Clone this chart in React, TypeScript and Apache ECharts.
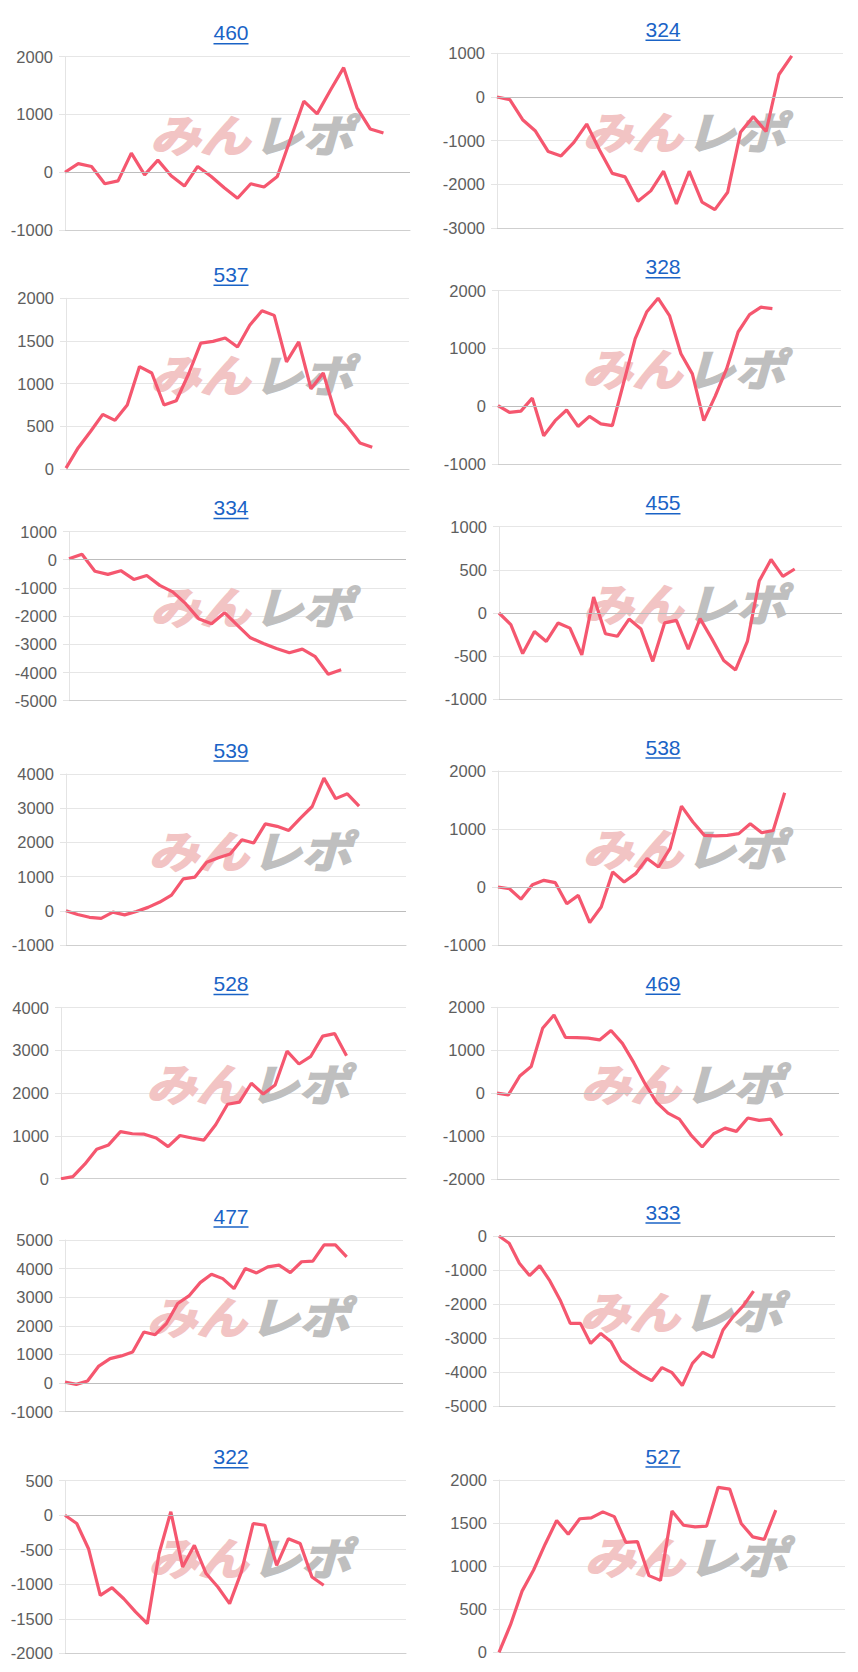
import React, { useEffect, useRef } from "react";
import * as echarts from "echarts";

// ---- data ----
const titles = ["460", "324", "537", "328", "334", "455", "539", "538", "528", "469", "477", "333", "322", "527"];

const s460 = [0, 150, 100, -200, -150, 330, -45, 210, -60, -240, 100, -70, -270, -450, -200, -255, -75, 580, 1230, 1010, 1420, 1810, 1120, 750, 680];
const s324 = [0, -60, -520, -780, -1250, -1350, -1040, -620, -1215, -1750, -1830, -2390, -2150, -1700, -2450, -1700, -2410, -2580, -2180, -810, -450, -790, 515, 940];
const s537 = [10, 250, 440, 640, 570, 750, 1200, 1125, 750, 800, 1110, 1475, 1495, 1535, 1430, 1685, 1855, 1800, 1255, 1490, 940, 1125, 645, 490, 305, 255];
const s328 = [10, -105, -85, 140, -510, -250, -65, -350, -175, -305, -335, 415, 1170, 1630, 1870, 1570, 910, 560, -250, 175, 650, 1285, 1585, 1715, 1690];
const s334 = [30, 190, -410, -520, -390, -700, -560, -910, -1140, -1560, -2090, -2270, -1880, -2330, -2770, -2970, -3150, -3300, -3170, -3440, -4060, -3900];
const s455 = [0, -135, -470, -215, -330, -115, -175, -485, 185, -240, -270, -70, -185, -560, -115, -85, -420, -65, -300, -550, -660, -330, 370, 620, 425, 510];
const s539 = [0, -110, -190, -220, -40, -120, -20, 100, 255, 460, 935, 985, 1420, 1550, 1660, 2080, 1980, 2540, 2470, 2350, 2710, 3050, 3880, 3280, 3420, 3060];
const s538 = [0, -30, -210, 40, 115, 75, -290, -145, -615, -345, 260, 85, 230, 490, 345, 660, 1395, 1120, 890, 880, 890, 920, 1090, 935, 975, 1625];
const s528 = [0, 50, 340, 690, 790, 1100, 1050, 1040, 950, 750, 1010, 950, 900, 1260, 1740, 1790, 2230, 1980, 2190, 2980, 2680, 2860, 3330, 3390, 2870];
const s469 = [0, -40, 400, 620, 1510, 1820, 1300, 1295, 1280, 1240, 1460, 1160, 710, 215, -215, -465, -605, -970, -1255, -945, -815, -890, -580, -635, -605, -990];
const s477 = [35, -45, 70, 595, 855, 950, 1085, 1785, 1690, 2080, 2780, 3045, 3510, 3805, 3650, 3300, 4000, 3850, 4060, 4120, 3860, 4240, 4260, 4830, 4830, 4410];
const s333 = [0, -215, -800, -1165, -875, -1320, -1880, -2570, -2570, -3160, -2865, -3110, -3665, -3890, -4090, -4255, -3870, -4020, -4400, -3745, -3420, -3570, -2765, -2370, -2050, -1620];
const s322 = [0, -120, -485, -1160, -1050, -1210, -1400, -1570, -555, 50, -750, -435, -845, -1040, -1280, -820, -120, -145, -725, -340, -410, -895, -1015];
const s527 = [0, 320, 710, 955, 1255, 1530, 1370, 1550, 1560, 1630, 1575, 1275, 1285, 890, 835, 1640, 1475, 1455, 1465, 1915, 1895, 1495, 1340, 1310, 1650];

const seriesData = [s460, s324, s537, s328, s334, s455, s539, s538, s528, s469, s477, s333, s322, s527];
// number of x categories (days) on each chart's axis
const dayCounts = [27, 28, 29, 31, 27, 30, 30, 31, 30, 31, 31, 34, 30, 31];
const yMins = [-1000, -3000, 0, -1000, -5000, -1000, -1000, -1000, 0, -2000, -1000, -5000, -2000, 0];
const yMaxs = [2000, 1000, 2000, 2000, 1000, 1000, 4000, 2000, 4000, 2000, 5000, 0, 500, 2000];
const yIntervals = [1000, 1000, 500, 1000, 1000, 500, 1000, 1000, 1000, 1000, 1000, 1000, 500, 500];

// ---- layout (px) ----
const plotLeft = [65, 497, 66, 498, 69, 499, 66, 498, 61, 497, 65, 499, 65, 499];
const plotRight = [410, 843, 409, 841, 406, 842, 406, 842, 406, 839, 403, 835, 406, 845];
const plotTop = [56.7, 53.3, 298.3, 290.7, 531.5, 526.7, 774, 771, 1007.5, 1007.3, 1240, 1236, 1480.7, 1480];
const plotBottom = [230, 228, 469, 464, 700.7, 699.3, 945, 945, 1178.7, 1179, 1411.7, 1406, 1653.3, 1652.3];

const LINE_COLOR = "#f5576f";
const TITLE_COLOR = "#1a63c6";
const FONT = "'Liberation Sans', Arial, sans-serif";
const JP_FONT = "'Noto Sans CJK JP', sans-serif";
const WM_PINK = "#f2c4c4";
const WM_GRAY = "#bfbfbf";

export default function App() {
  const ref = useRef<HTMLDivElement>(null);

  useEffect(() => {
    if (!ref.current) return;
    const chart = echarts.init(ref.current, undefined, { renderer: "svg" });

    const grids: any[] = [];
    const xAxes: any[] = [];
    const yAxes: any[] = [];
    const series: any[] = [];
    const graphics: any[] = [];

    seriesData.forEach((data, i) => {
      const left = plotLeft[i];
      const top = plotTop[i];
      const width = plotRight[i] - plotLeft[i];
      const height = plotBottom[i] - plotTop[i];
      grids.push({ left, top, width, height, containLabel: false });
      const cats = Array.from({ length: dayCounts[i] }, (_, k) => String(k + 1));
      xAxes.push({
        type: "category",
        gridIndex: i,
        data: cats,
        boundaryGap: false,
        axisLine: { show: true, onZero: false, lineStyle: { color: "#cfcfcf", width: 1 } },
        axisTick: { show: false },
        axisLabel: { show: false },
        splitLine: { show: false },
      });
      yAxes.push({
        type: "value",
        gridIndex: i,
        min: yMins[i],
        max: yMaxs[i],
        interval: yIntervals[i],
        axisLine: { show: true, lineStyle: { color: "#e4e4e4", width: 1 } },
        axisTick: { show: true, length: 6, lineStyle: { color: "#e4e4e4" } },
        axisLabel: {
          color: "#5e5e5e",
          fontSize: 16.5,
          fontFamily: FONT,
          margin: 12,
          formatter: (v: number) => String(v),
        },
        splitLine: { show: true, lineStyle: { color: "#e6e6e6", width: 1 } },
      });
      if (yMins[i] < 0) {
        series.push({
          type: "line",
          xAxisIndex: i,
          yAxisIndex: i,
          data: [],
          z: 1,
          silent: true,
          markLine: {
            silent: true,
            symbol: "none",
            label: { show: false },
            lineStyle: { color: "#bdbdbd", width: 1, type: "solid" },
            data: [{ yAxis: 0 }],
          },
        });
      }
      series.push({
        type: "line",
        name: titles[i],
        xAxisIndex: i,
        yAxisIndex: i,
        data,
        symbol: "none",
        showSymbol: false,
        z: 3,
        lineStyle: { color: LINE_COLOR, width: 3.2 },
        itemStyle: { color: LINE_COLOR },
      });

      // title (link-styled)
      const tx = i % 2 === 0 ? 231 : 663;
      const ty = top - 24;
      const fs = 21;
      const tw = titles[i].length * 0.556 * fs;
      graphics.push({
        type: "text",
        x: tx,
        y: ty,
        z: 5,
        style: {
          text: titles[i],
          fill: TITLE_COLOR,
          fontSize: fs,
          fontFamily: FONT,
          align: "center",
          verticalAlign: "middle",
        },
      });
      graphics.push({
        type: "line",
        z: 5,
        shape: { x1: tx - tw / 2, y1: ty + 11, x2: tx + tw / 2, y2: ty + 11 },
        style: { stroke: TITLE_COLOR, lineWidth: 1.4 },
      });

      // watermark
      const cx = left + width / 2 + 13.5;
      const cy = top + height / 2 - 11;
      graphics.push({
        type: "text",
        x: cx - 1,
        y: cy,
        z: 1,
        scaleY: 0.88,
        style: {
          text: "みん",
          fill: WM_PINK,
          fontSize: 50,
          fontWeight: "bold",
          fontStyle: "italic",
          fontFamily: JP_FONT,
          align: "right",
          verticalAlign: "middle",
          stroke: WM_PINK,
          lineWidth: 2,
        },
      });
      graphics.push({
        type: "text",
        x: cx + 2,
        y: cy,
        z: 1,
        scaleY: 0.88,
        style: {
          text: "レポ",
          fill: WM_GRAY,
          fontSize: 50,
          fontWeight: "bold",
          fontStyle: "italic",
          fontFamily: JP_FONT,
          align: "left",
          verticalAlign: "middle",
          stroke: WM_GRAY,
          lineWidth: 2,
        },
      });
    });

    chart.setOption({
      animation: false,
      backgroundColor: "#ffffff",
      grid: grids,
      xAxis: xAxes,
      yAxis: yAxes,
      series,
      graphic: { elements: graphics },
    });

    return () => chart.dispose();
  }, []);

  return (
    <div
      ref={ref}
      style={{ position: "absolute", left: 0, top: 0, width: 858, height: 1672 }}
    />
  );
}
